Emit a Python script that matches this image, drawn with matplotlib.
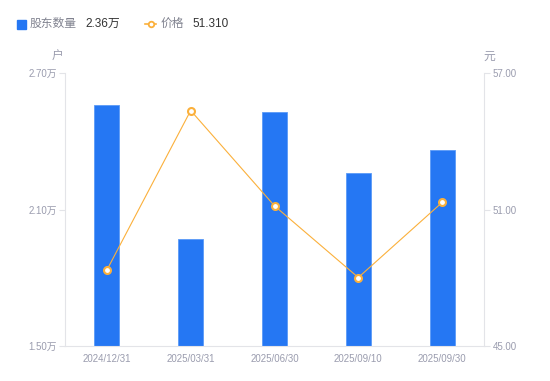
import matplotlib.pyplot as plt

plt.rcParams['font.family'] = ['Liberation Sans', 'Noto Sans CJK SC', 'DejaVu Sans']

dates = ['2024/12/31', '2025/03/31', '2025/06/30', '2025/09/10', '2025/09/30']
holders = [2.56, 1.97, 2.53, 2.26, 2.36]   # 万户
price = [48.34, 55.35, 51.16, 48.01, 51.31]

blue = '#2577f3'
orange = '#fbb03b'
tick_col = '#9a9cae'
axis_col = '#e3e4e8'

fig = plt.figure(figsize=(5.5, 3.81), dpi=100)
ax = fig.add_axes([65 / 550, 1 - 346 / 381, (484 - 65) / 550, (346 - 73) / 381])
ax2 = ax.twinx()

x = list(range(len(dates)))
ax.bar(x, holders, width=0.3, color=blue, edgecolor='#5b9af7', linewidth=0.6, zorder=2)
ax.set_xlim(-0.5, len(dates) - 0.5)
ax.set_ylim(1.5, 2.7)
ax.set_yticks([1.5, 2.1, 2.7])
ax.set_yticklabels(['1.50万', '2.10万', '2.70万'])
ax.set_xticks(x)
ax.set_xticklabels(dates)

ax2.plot(x, price, color=orange, linewidth=0.8, marker='o', markersize=5,
         markerfacecolor='white', markeredgecolor=orange, markeredgewidth=1.5, zorder=3)
ax2.set_ylim(45, 57)
ax2.set_yticks([45, 51, 57])
ax2.set_yticklabels(['45.00', '51.00', '57.00'])

for a in (ax, ax2):
    for s in a.spines.values():
        s.set_visible(False)
    a.tick_params(colors=tick_col, labelsize=7, length=4, width=0.8)
    a.tick_params(axis='y', color=axis_col)
ax.spines['left'].set_visible(True)
ax.spines['left'].set_color(axis_col)
ax.spines['bottom'].set_visible(True)
ax.spines['bottom'].set_color(axis_col)
ax2.spines['right'].set_visible(True)
ax2.spines['right'].set_color(axis_col)
ax.tick_params(axis='x', length=0, pad=6)
ax.tick_params(axis='y', pad=2)
ax2.tick_params(axis='y', pad=2)

fig.text(58 / 550, 1 - 57 / 381, '户', color=tick_col, fontsize=8.5, ha='center', va='center')
fig.text(489 / 550, 1 - 57 / 381, '元', color=tick_col, fontsize=8.5, ha='center', va='center')

# legend row
ly = 1 - 24 / 381
fig.patches.append(plt.Rectangle((17 / 550, 1 - 29 / 381), 9 / 550, 9 / 381,
                                 transform=fig.transFigure, color=blue, figure=fig))
fig.text(30 / 550, ly, '股东数量', color='#80828f', fontsize=8.5, va='center')
fig.text(85 / 550, ly, '2.36万', color='#333333', fontsize=8.5, va='center')
fig.add_artist(plt.Line2D([145 / 550, 150.5 / 550, 156 / 550], [ly, ly, ly],
                          transform=fig.transFigure, color=orange, linewidth=1.2,
                          marker='o', markersize=4, markevery=[1], markerfacecolor='white',
                          markeredgecolor=orange, markeredgewidth=1.3))
fig.text(161 / 550, ly, '价格', color='#80828f', fontsize=8.5, va='center')
fig.text(192 / 550, ly, '51.310', color='#333333', fontsize=8.5, va='center')

fig.savefig('out.png', dpi=100)
